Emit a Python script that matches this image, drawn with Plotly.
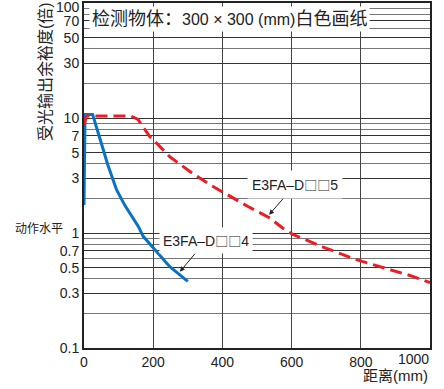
import math
import plotly.graph_objects as go

# ---- data ----
blue_x = [0, 3, 25, 40, 69, 94, 118, 157, 171, 205, 248, 300]
blue_y = [1.75, 10.7, 10.7, 7.6, 3.9, 2.38, 1.74, 1.14, 0.935, 0.716, 0.51, 0.38]
red_x = [0, 7, 136, 156, 190, 204, 248, 306, 364, 421, 474, 537, 575, 604, 691, 787, 950, 1000]
red_y = [8.75, 10.4, 10.4, 9.7, 6.9, 6.3, 4.6, 3.43, 2.63, 2.08, 1.70, 1.35, 1.1, 0.97, 0.755, 0.586, 0.42, 0.37]
blue_name = "E3FA\u2013D\u25a1\u25a14"
red_name = "E3FA\u2013D\u25a1\u25a15"
x_ticks = [0, 200, 400, 600, 800, 1000]
x_ticklabels = ["0", "200", "400", "600", "800", ""]
x_end_label = "1000"
y_ticks = [0.1, 0.3, 0.5, 0.7, 1, 3, 5, 7, 10, 30, 50, 70, 100]
y_ticklabels = ["0.1", "0.3", "0.5", "0.7", "1", "3", "5", "7", "10", "30", "50", "70", ""]
y_top_label = "100"
y_minor = [0.2, 0.4, 0.6, 0.8, 0.9, 2, 4, 6, 8, 9, 20, 40, 60, 80, 90]
title_cjk1 = "检测物体："
title_latin = "300 × 300 (mm)"
title_cjk2 = "白色画纸"
y_title = "受光输出余裕度(倍)"
x_title = "距离(mm)"
level_text = "动作水平"

FONT = "Liberation Sans, Arial, Noto Sans CJK SC, sans-serif"
W, H = 444, 389
L, R, T, B = 84, 14, 3, 41
PW, PH = W - L - R, H - T - B

def px(xp):
    return (xp - L) / PW

def py(yp):
    return (H - B - yp) / PH

def label_html(name):
    sq = "\u25a1\u25a1"
    a, b = name.split(sq)
    return a + '<span style="font-family:Noto Sans CJK SC;font-size:13px">' + sq + '</span>' + b

fig = go.Figure()
fig.add_trace(go.Scatter(x=blue_x, y=blue_y, mode="lines", name=blue_name,
                         line=dict(color="#0a72c2", width=3)))
fig.add_trace(go.Scatter(x=red_x, y=red_y, mode="lines", name=red_name,
                         line=dict(color="#ec1c24", width=3, dash="12px,6px")))

fig.update_layout(
    width=W, height=H,
    margin=dict(l=L, r=R, t=T, b=B, autoexpand=False),
    paper_bgcolor="white", plot_bgcolor="white",
    showlegend=False,
    font=dict(family=FONT, size=14, color="#222"),
    xaxis=dict(range=[0, 1000], tickvals=x_ticks, ticktext=x_ticklabels, showgrid=True,
               gridcolor="#444", gridwidth=1, showline=True, mirror=True, linecolor="#222",
               linewidth=2, ticks="", zeroline=False, automargin=False,
               ticklabeloverflow="allow",
               tickfont=dict(size=14, color="#222")),
    yaxis=dict(type="log", range=[-1, 2], tickvals=y_ticks, ticktext=y_ticklabels,
               showgrid=True, gridcolor="#333", gridwidth=1,
               minor=dict(tickvals=y_minor, showgrid=True, gridcolor="#777", gridwidth=1, ticks=""),
               showline=True, mirror=True, linecolor="#222", linewidth=2, automargin=False,
               ticklabeloverflow="allow",
               ticks="", zeroline=False, tickfont=dict(size=14, color="#222")),
)

title_html = ('<span style="font-size:18px">' + title_cjk1 + '</span>' + title_latin +
              '<span style="font-size:18px">' + title_cjk2 + '</span>')

ann = []
ann.append(dict(xref="paper", yref="paper", x=px(89), y=py(19), xanchor="left", yanchor="middle",
                text=title_html, showarrow=False, bgcolor="white", borderpad=2,
                font=dict(size=16, color="#222", family=FONT)))
ann.append(dict(xref="paper", yref="paper", x=px(82), y=py(7), xanchor="right", yanchor="middle",
                text=y_top_label, showarrow=False,
                font=dict(size=14, color="#222", family=FONT)))
ann.append(dict(xref="paper", yref="paper", x=px(431), y=py(359), xanchor="right", yanchor="middle",
                text=x_end_label, showarrow=False,
                font=dict(size=14, color="#222", family=FONT)))
ann.append(dict(xref="paper", yref="paper", x=px(45), y=py(72), xanchor="center", yanchor="middle",
                text=y_title, textangle=-90, showarrow=False,
                font=dict(size=16, color="#222", family=FONT)))
ann.append(dict(xref="paper", yref="paper", x=px(39), y=py(229), xanchor="center", yanchor="middle",
                text=level_text, showarrow=False,
                font=dict(size=12, color="#222", family=FONT)))
ann.append(dict(xref="paper", yref="paper", x=px(430), y=py(375), xanchor="right", yanchor="middle",
                text=x_title, showarrow=False,
                font=dict(size=15, color="#222", family=FONT)))
ann.append(dict(x=535, y=math.log10(1.44), xref="x", yref="y", text=label_html(red_name), showarrow=True,
                ax=26, ay=-30, arrowhead=2, arrowsize=1, arrowwidth=1, arrowcolor="#222",
                bgcolor="white", borderpad=4, font=dict(size=14, color="#222", family=FONT)))
ann.append(dict(x=277, y=math.log10(0.46), xref="x", yref="y", text=label_html(blue_name), showarrow=True,
                ax=26, ay=-31, arrowhead=2, arrowsize=1, arrowwidth=1, arrowcolor="#222",
                bgcolor="white", borderpad=3, font=dict(size=14, color="#222", family=FONT)))
fig.update_layout(annotations=ann)

fig.write_html("out.html", config={"displayModeBar": False},
               post_script="document.body.style.margin='0';")
